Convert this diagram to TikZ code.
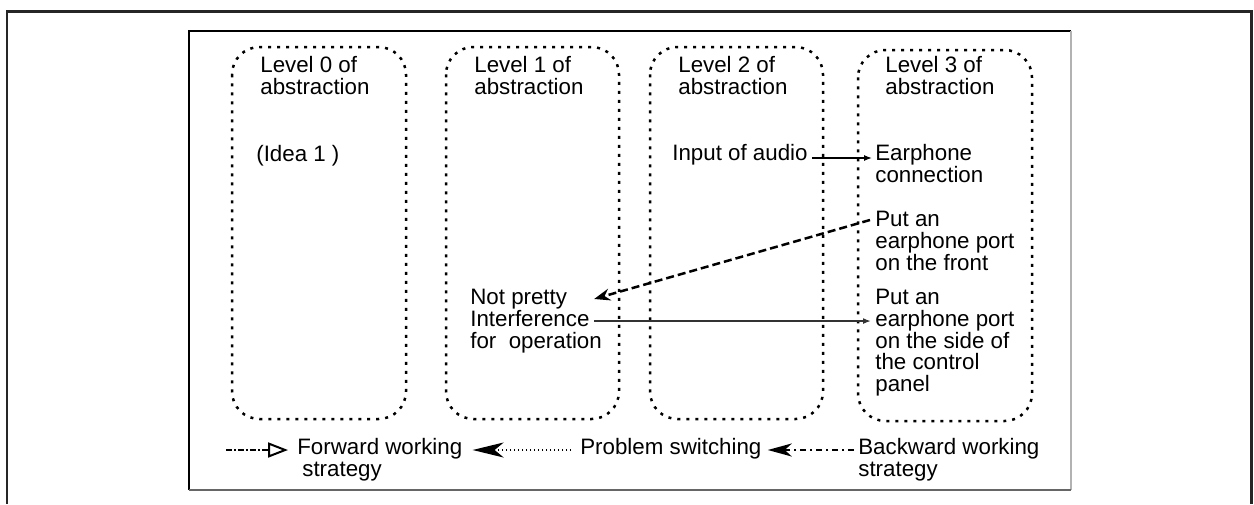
\documentclass[tikz,border=0pt]{standalone}
\usepackage{fontspec}
\setmainfont{Liberation Sans}
\usetikzlibrary{%
  arrows.meta,%
  calc%
}

\begin{document}
\begin{tikzpicture}[x=0.02cm,y=-0.02cm,
    lvlbox/.style={line width=0.05cm,dash pattern=on 0.06cm off 0.12cm,
                   rounded corners=0.55cm},
    txt/.style={anchor=north west,inner sep=0pt,align=left,
                font=\fontsize{12.7}{12.35}\selectfont},
    thinarr/.style={line width=0.025cm,-{Latex[length=0.16cm,width=0.12cm]}},
    movearr/.style={line width=0.05cm,dash pattern=on 0.16cm off 0.08cm,
                    -{Stealth[length=0.32cm,width=0.24cm]}}
  ]
      \useasboundingbox (0,0) rectangle (1254,504);
      % frames
      \draw [line width=0.06cm,black!85] (7,504) -- (7,11) -- (1251,11) -- (1251,504);
      \draw [line width=0.03cm] (189,490) -- (189,31) -- (1071,31);
      \draw [line width=0.04cm,black!30] (1071,31) -- (1071,490);
      \draw [line width=0.04cm,black!60] (1071,490) -- (189,490);
      % levels of abstraction
      \draw [lvlbox] (232,47) rectangle (406,419);
      \draw [lvlbox] (446,47) rectangle (619,419);
      \draw [lvlbox] (650,47) rectangle (823,419);
      \draw [lvlbox] (858,50) rectangle (1032,421);
      \node [txt] (lvl0) at (260,56) {Level 0 of\\abstraction};
      \node [txt] (lvl1) at (474,56) {Level 1 of\\abstraction};
      \node [txt] (lvl2) at (678,56) {Level 2 of\\abstraction};
      \node [txt] (lvl3) at (885,56) {Level 3 of\\abstraction};
      % ideas
      \node [txt] (idea) at (256,145) {(Idea 1 )};
      \node [txt] (audio) at (672,144) {Input of audio};
      \node [txt] (earconn) at (875,144) {Earphone\\connection};
      \node [txt] (front) at (875,211) {Put an\\earphone port\\on the front};
      \node [txt] (notpretty) at (470,289) {Not pretty\\Interference\\for\ \ operation};
      \node [txt] (side) at (875,289) {Put an\\earphone port\\on the side of\\the control\\panel};
      \draw [thinarr] ($(audio.north east)+(4,14)$) -- ($(earconn.north west)+(-3,14)$);
      \draw [movearr] ($(front.north west)+(-5,9)$) -- ($(notpretty.north east)+(-8,10)$);
      \draw [thinarr,line width=0.035cm,black!80]
        ($(notpretty.east)+(-8,0)$) -- ($(notpretty.east -| side.west)+(-4,0)$);
      % legend
      \node [txt] (fwd) at (297,438) {Forward working\\\hspace{0.1cm}strategy};
      \node [txt] (psw) at (580,438) {Problem switching};
      \node [txt] (bwd) at (858,438) {Backward working\\strategy};
      \coordinate (fwdtail) at (226,450);
      \coordinate (pstip) at ($(fwd.north east)+(10,12)$);
      \coordinate (bwtip) at ($(psw.north east)+(6,12)$);
      \draw [line width=0.04cm,
             dash pattern=on 0.12cm off 0.04cm on 0.04cm off 0.04cm,
             -{Triangle[open,length=0.4cm,width=0.3cm,line width=0.04cm]}]
        (fwdtail) -- ($(fwd.north west)+(-9,12)$);
      \draw [line width=0.04cm,dash pattern=on 0.03cm off 0.05cm,
             -{Stealth[length=0.62cm,width=0.3cm,inset=0.18cm]}]
        ($(psw.north west)+(-9,12)$) -- (pstip);
      \draw [line width=0.04cm,
             dash pattern=on 0.12cm off 0.08cm on 0.04cm off 0.08cm,
             -{Stealth[length=0.48cm,width=0.26cm,inset=0.14cm]}]
        ($(bwd.north west)+(-4,12)$) -- (bwtip);
    \end{tikzpicture}
\end{document}
